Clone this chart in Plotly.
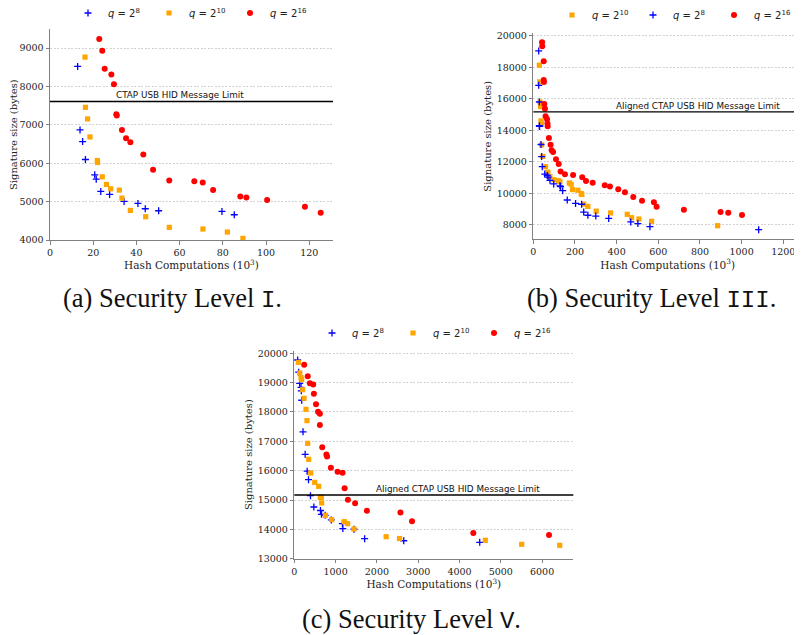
import plotly.graph_objects as go

# The page body has an 8px margin, so the figure is drawn 8px in from the window corner.
OFF = 8
W, H = 802 - OFF, 635 - OFF

# ---------------- data: (a) Security Level I ----------------
a_x8 = [12.8, 13.9, 15.1, 16.4, 20.7, 21.4, 23.5, 27.6, 34.3, 40.7, 44.1, 50.3, 79.6, 85.3]
a_y8 = [8523, 6868, 6565, 6097, 5698, 5586, 5265, 5187, 5005, 4953, 4814, 4762, 4745, 4658]
a_x10 = [16.2, 16.4, 17.4, 18.5, 21.9, 22.0, 24.2, 26.1, 28.1, 32.1, 33.3, 37.2, 44.3, 55.2, 70.8, 82.1, 89.3]
a_y10 = [8766, 7457, 7154, 6686, 6071, 6019, 5646, 5447, 5334, 5300, 5092, 4771, 4606, 4329, 4286, 4208, 4043]
a_x16 = [22.8, 24.2, 25.3, 28.4, 29.6, 30.7, 30.9, 33.3, 35.2, 37.2, 43.2, 47.7, 55.2, 66.8, 70.7, 75.5,
         88.1, 90.9, 100.5, 118.0, 125.3]
a_y16 = [9234, 8931, 8463, 8315, 8055, 7275, 7245, 6868, 6652, 6548, 6227, 5828, 5551, 5534, 5499, 5300,
         5135, 5109, 5040, 4866, 4710]

# ---------------- data: (b) Security Level III ----------------
b_x8 = [26, 26, 29, 29, 30, 37, 40, 43, 55, 67, 71, 80, 98, 128, 131, 141, 163, 203, 232, 242, 262, 300,
        362, 468, 502, 560, 1082, 1277]
b_y8 = [19050, 16860, 15800, 14290, 14250, 13100, 12330, 11690, 11220, 11130, 11030, 10820, 10590, 10470,
        10420, 10160, 9570, 9350, 9300, 8800, 8600, 8550, 8400, 8175, 8070, 7870, 7685, 7655]
b_x10 = [29, 31, 32, 35, 37, 39, 40, 46, 59, 70, 80, 99, 120, 128, 173, 182, 188, 214, 230, 233, 242, 262,
         302, 371, 451, 472, 507, 568, 885]
b_y10 = [18140, 17080, 15800, 15510, 14600, 14400, 13070, 12340, 11690, 11340, 11060, 10860, 10800, 10730,
         10650, 10570, 10230, 10190, 9980, 9920, 9310, 9160, 8860, 8745, 8660, 8445, 8360, 8215, 7935]
b_x16 = [42, 43, 50, 50, 51, 53, 56, 59, 66, 68, 69, 75, 83, 88, 95, 109, 122, 131, 152, 191, 235, 253,
         285, 343, 368, 408, 440, 480, 522, 579, 592, 723, 899, 936, 1002]
b_y16 = [19600, 19340, 18400, 17200, 17080, 15670, 15370, 14900, 14700, 14440, 14260, 13510, 13090, 12740,
         12620, 12160, 11860, 11380, 11200, 11160, 11010, 10780, 10670, 10500, 10420, 10250, 10060, 9760,
         9525, 9430, 9145, 8955, 8810, 8765, 8616]

# ---------------- data: (c) Security Level V ----------------
c_x8 = [81, 106, 130, 162, 170, 180, 211, 263, 311, 344, 392, 473, 634, 658, 747, 896, 1166, 1175, 1445,
        1703, 2650, 4489]
c_y8 = [19772, 19358, 18977, 18840, 18720, 18400, 17322, 16556, 15983, 15693, 15148, 14762, 14642, 14511,
        14477, 14323, 14193, 14028, 14005, 13682, 13612, 13558]
c_x10 = [98, 130, 162, 178, 203, 235, 283, 307, 324, 348, 397, 494, 590, 630, 655, 663, 751, 905, 1211,
         1292, 1445, 2224, 2547, 4625, 5506, 6426]
c_y10 = [19692, 19329, 19170, 19101, 18760, 18465, 18090, 17704, 16931, 16386, 15920, 15602, 15466, 15091,
         15091, 14898, 14477, 14331, 14262, 14194, 14012, 13750, 13688, 13627, 13490, 13456]
c_x16 = [240, 325, 377, 458, 474, 526, 575, 619, 619, 676, 777, 793, 886, 1048, 1169, 1218, 1298, 1472,
         1758, 2570, 2850, 4334, 6167]
c_y16 = [19613, 19221, 18976, 18936, 18619, 18261, 18011, 17938, 17557, 16796, 16552, 16483, 16103, 15967,
         15933, 15399, 15012, 14887, 14637, 14575, 14280, 13875, 13807]

limit_a = 7609
limit_bc = 15170
limit_text_a = "CTAP USB HID Message Limit"
limit_text_bc = "Aligned CTAP USB HID Message Limit"
x_title = "Hash Computations (10<sup>3</sup>)"
y_title = "Signature size (bytes)"
lbl8 = "<i>q</i> = 2<sup>8</sup>"
lbl10 = "<i>q</i> = 2<sup>10</sup>"
lbl16 = "<i>q</i> = 2<sup>16</sup>"

BLUE, ORANGE, RED = "#0000ff", "#ffa500", "#ff0000"
SERIF = "DejaVu Serif"


def fx(px):
    return (px - OFF) / W


def fy(py):
    return 1 - (py - OFF) / H


def px_dom(x0, x1):
    return [fx(x0), min(1.0, fx(x1))]


def py_dom(ytop, ybot):
    return [fy(ybot), fy(ytop)]


fig = go.Figure()


def add_series(xs, ys, kind, xa, ya, leg, name):
    if kind == 8:
        m = dict(symbol="cross-thin", size=5, color=BLUE, line=dict(color=BLUE, width=1.3))
    elif kind == 10:
        m = dict(symbol="square", size=5.2, color=ORANGE, line=dict(width=0))
    else:
        m = dict(symbol="circle", size=6, color=RED, line=dict(width=0))
    fig.add_trace(go.Scatter(x=xs, y=ys, mode="markers", marker=m, name=name,
                             xaxis=xa, yaxis=ya, legend=leg, cliponaxis=False))


# (a) order: 8, 10, 16
add_series(a_x8, a_y8, 8, "x", "y", "legend", lbl8)
add_series(a_x10, a_y10, 10, "x", "y", "legend", lbl10)
add_series(a_x16, a_y16, 16, "x", "y", "legend", lbl16)
# (b) order: 10, 8, 16
add_series(b_x10, b_y10, 10, "x2", "y2", "legend2", lbl10)
add_series(b_x8, b_y8, 8, "x2", "y2", "legend2", lbl8)
add_series(b_x16, b_y16, 16, "x2", "y2", "legend2", lbl16)
# (c) order: 8, 10, 16
add_series(c_x8, c_y8, 8, "x3", "y3", "legend3", lbl8)
add_series(c_x10, c_y10, 10, "x3", "y3", "legend3", lbl10)
add_series(c_x16, c_y16, 16, "x3", "y3", "legend3", lbl16)

axis_common = dict(showline=True, linecolor="#808080", linewidth=1, ticks="outside", ticklen=3.5,
                   tickcolor="#808080", tickfont=dict(family=SERIF, size=9.5, color="#222"),
                   automargin=False, zeroline=False, mirror=False, tickformat="d")
xcommon = dict(axis_common, showgrid=False,
               title=dict(text=x_title, font=dict(family=SERIF, size=10.5, color="#222"), standoff=3))
ycommon = dict(axis_common, showgrid=True, gridcolor="#d2d2d2", griddash="2px,1.5px", gridwidth=1,
               title=dict(text=y_title, font=dict(family=SERIF, size=10, color="#222"), standoff=3))

fig.update_layout(
    width=W, height=H, margin=dict(l=0, r=0, t=0, b=0, autoexpand=False),
    paper_bgcolor="white", plot_bgcolor="white",
    xaxis=dict(xcommon, domain=px_dom(50, 333), range=[0, 131], dtick=20, anchor="y"),
    yaxis=dict(ycommon, domain=py_dom(29.3, 240), range=[4000, 9490], dtick=1000, anchor="x"),
    xaxis2=dict(xcommon, domain=px_dom(533.3, 802), range=[0, 1290], dtick=200, anchor="y2"),
    yaxis2=dict(ycommon, domain=py_dom(33.3, 239.3), range=[7070, 20170], dtick=2000, anchor="x2"),
    xaxis3=dict(xcommon, domain=px_dom(294.3, 573.3), range=[0, 6755], dtick=1000, anchor="y3"),
    yaxis3=dict(ycommon, domain=py_dom(350.5, 558.7), range=[13000, 20095], dtick=1000, anchor="x3"),
    showlegend=True,
)

leg_common = dict(orientation="h", font=dict(family="DejaVu Sans", size=10, color="#222"),
                  bgcolor="rgba(0,0,0,0)", yanchor="middle", xanchor="left",
                  entrywidth=36, entrywidthmode="pixels", tracegroupgap=0, itemwidth=30)
fig.update_layout(
    legend=dict(leg_common, x=fx(68), y=fy(13)),
    legend2=dict(leg_common, x=fx(552), y=fy(15)),
    legend3=dict(leg_common, x=fx(312), y=fy(333)),
)

# limit lines
for xa, ya, yv in [("x", "y", limit_a), ("x2", "y2", limit_bc), ("x3", "y3", limit_bc)]:
    fig.add_shape(type="line", xref=xa + " domain", yref=ya, x0=0, x1=1, y0=yv, y1=yv,
                  line=dict(color="black", width=1.3))

lim_font = dict(family="DejaVu Sans", size=8.8, color="#111")
fig.add_annotation(x=60, y=limit_a, xref="x", yref="y", text=limit_text_a, showarrow=False,
                   yanchor="bottom", yshift=-1, font=lim_font)
fig.add_annotation(x=790, y=limit_bc, xref="x2", yref="y2", text=limit_text_bc, showarrow=False,
                   yanchor="bottom", yshift=-1, font=lim_font)
fig.add_annotation(x=3963, y=limit_bc, xref="x3", yref="y3", text=limit_text_bc, showarrow=False,
                   yanchor="bottom", yshift=-1, font=lim_font)

# captions
cap_font = dict(family="Liberation Serif", size=26.5, color="#111")
mono = "font-family:'Liberation Mono';font-size:24px"
for cx, cy, lab, lvl in [(172, 298, "(a)", "I"), (651, 298, "(b)", "III"), (411, 619, "(c)", "V")]:
    fig.add_annotation(x=fx(cx), y=fy(cy), xref="paper", yref="paper", showarrow=False,
                       text=f"{lab} Security Level <span style=\"{mono}\">{lvl}</span>.",
                       font=cap_font, xanchor="center", yanchor="middle")

fig.write_html("out.html")
